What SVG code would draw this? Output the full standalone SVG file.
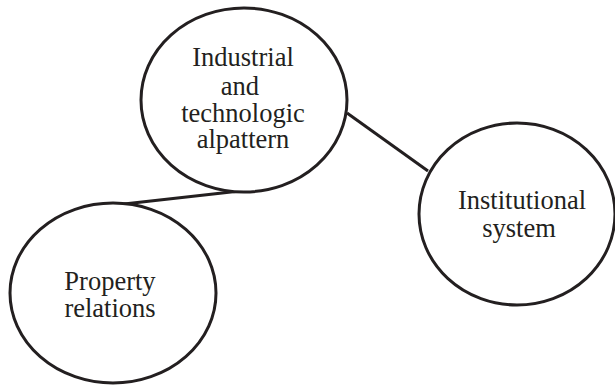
<svg xmlns="http://www.w3.org/2000/svg" width="615" height="388" viewBox="0 0 615 388">
<style>
.n{fill:#fff;stroke:#231f20;stroke-width:3}
.c{stroke:#231f20;stroke-width:3;fill:none}
text{font-family:"Liberation Serif","Times New Roman",serif;font-size:26.5px;fill:#231f20;text-anchor:middle}
</style>
<rect width="615" height="388" fill="#fff"/>
<g id="connectors">
<line class="c" x1="347" y1="113" x2="428" y2="171"/>
<line class="c" x1="124" y1="204" x2="240" y2="191"/>
</g>
<g id="industrial">
<ellipse class="n" cx="244" cy="100" rx="103" ry="92"/>
<text x="243" y="66">Industrial</text>
<text x="240" y="95">and</text>
<text x="243" y="122">technologic</text>
<text x="243" y="148">alpattern</text>
</g>
<g id="institutional">
<ellipse class="n" cx="517" cy="214" rx="98" ry="91"/>
<text x="522" y="209">Institutional</text>
<text x="519" y="237">system</text>
</g>
<g id="property">
<ellipse class="n" cx="113" cy="293" rx="103" ry="90"/>
<text x="110" y="290">Property</text>
<text x="110" y="317">relations</text>
</g>
</svg>
